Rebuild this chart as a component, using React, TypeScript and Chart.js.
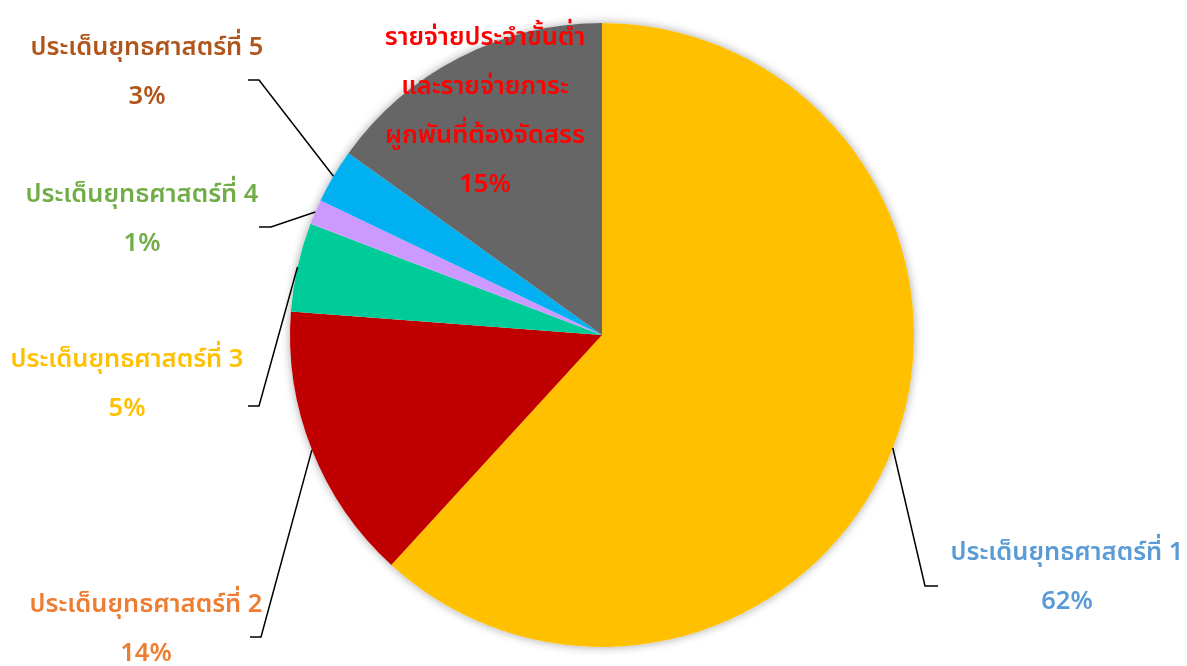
import React, { useEffect, useRef } from "react";
import { Chart, registerables } from "chart.js";

Chart.register(...registerables);

const categories = [
  "ประเด็นยุทธศาสตร์ที่ 1",
  "ประเด็นยุทธศาสตร์ที่ 2",
  "ประเด็นยุทธศาสตร์ที่ 3",
  "ประเด็นยุทธศาสตร์ที่ 4",
  "ประเด็นยุทธศาสตร์ที่ 5",
  "รายจ่ายประจำขั้นต่ำและรายจ่ายภาระผูกพันที่ต้องจัดสรร",
];
const values = [61.8, 14.4, 4.6, 1.3, 2.8, 15.1];
const percentLabels = ["62%", "14%", "5%", "1%", "3%", "15%"];
const labelLines = [
  ["ประเด็นยุทธศาสตร์ที่ 1"],
  ["ประเด็นยุทธศาสตร์ที่ 2"],
  ["ประเด็นยุทธศาสตร์ที่ 3"],
  ["ประเด็นยุทธศาสตร์ที่ 4"],
  ["ประเด็นยุทธศาสตร์ที่ 5"],
  ["รายจ่ายประจำขั้นต่ำ", "และรายจ่ายภาระ", "ผูกพันที่ต้องจัดสรร"],
];

const sliceColors = ["#FFC000", "#C00000", "#00CC99", "#CC99FF", "#00B0F0", "#666666"];
const textColors = ["#5B9BD5", "#ED7D31", "#FFC000", "#70AD47", "#B0561C", "#FF0000"];

// label layout: text centre x, first line y, elbow point, end of horizontal leader (null = no leader)
const labelLayout = [
  { x: 1067, y: 553, elbow: [925, 586], end: [938, 586] },
  { x: 146, y: 605, elbow: [261, 637], end: [250, 637] },
  { x: 127, y: 360, elbow: [259, 406], end: [248, 406] },
  { x: 142, y: 195, elbow: [271, 227], end: [259, 227] },
  { x: 147, y: 48, elbow: [259, 80], end: [248, 80] },
  { x: 485, y: 38, elbow: null, end: null },
];

const FONT = '"Noto Sans", "Noto Sans Thai", "Tahoma", sans-serif';
const LINE_H = 49;

const shadowPlugin = {
  id: "pieShadow",
  beforeDatasetsDraw(chart: any) {
    const meta = chart.getDatasetMeta(0);
    const arc = meta.data[0];
    if (!arc) return;
    const { x, y, outerRadius } = arc.getProps(["x", "y", "outerRadius"], true);
    const ctx = chart.ctx;
    ctx.save();
    ctx.shadowColor = "rgba(0,0,0,0.35)";
    ctx.shadowBlur = 10;
    ctx.shadowOffsetX = 0;
    ctx.shadowOffsetY = 0;
    ctx.fillStyle = "#ffffff";
    ctx.beginPath();
    ctx.arc(x, y, outerRadius, 0, Math.PI * 2);
    ctx.fill();
    ctx.restore();
  },
};

const labelPlugin = {
  id: "outerLabels",
  afterDatasetsDraw(chart: any) {
    const ctx = chart.ctx;
    const meta = chart.getDatasetMeta(0);
    meta.data.forEach((arc: any, i: number) => {
      const p = arc.getProps(["x", "y", "startAngle", "endAngle", "outerRadius"], true);
      const mid = (p.startAngle + p.endAngle) / 2;
      const lay = labelLayout[i];
      if (lay.elbow && lay.end) {
        const sx = p.x + Math.cos(mid) * p.outerRadius;
        const sy = p.y + Math.sin(mid) * p.outerRadius;
        ctx.save();
        ctx.strokeStyle = "#000000";
        ctx.lineWidth = 1.5;
        ctx.beginPath();
        ctx.moveTo(sx, sy);
        ctx.lineTo(lay.elbow[0], lay.elbow[1]);
        ctx.lineTo(lay.end[0], lay.end[1]);
        ctx.stroke();
        ctx.restore();
      }
      ctx.save();
      ctx.fillStyle = textColors[i];
      ctx.font = `600 25.5px ${FONT}`;
      ctx.textAlign = "center";
      ctx.textBaseline = "middle";
      const lines = [...labelLines[i], percentLabels[i]];
      lines.forEach((t, k) => {
        ctx.fillText(t, lay.x, lay.y + k * LINE_H);
      });
      ctx.restore();
    });
  },
};

export default function App() {
  const ref = useRef<HTMLCanvasElement | null>(null);
  useEffect(() => {
    document.body.style.margin = "0";
    if (!ref.current) return;
    const chart = new Chart(ref.current, {
      type: "pie",
      data: {
        labels: categories,
        datasets: [
          {
            data: values,
            backgroundColor: sliceColors,
            borderWidth: 0,
          },
        ],
      },
      options: {
        animation: false,
        responsive: false,
        layout: { padding: { left: 290, right: 273, top: 23, bottom: 19 } },
        plugins: {
          legend: { display: false },
          tooltip: { enabled: false },
          title: { display: false },
        },
      },
      plugins: [shadowPlugin, labelPlugin],
    });
    return () => chart.destroy();
  }, []);
  return (
    <div style={{ position: "absolute", left: 0, top: 0, width: 1187, height: 666, background: "#ffffff" }}>
      <canvas ref={ref} width={1187} height={666} style={{ width: 1187, height: 666 }} />
    </div>
  );
}
